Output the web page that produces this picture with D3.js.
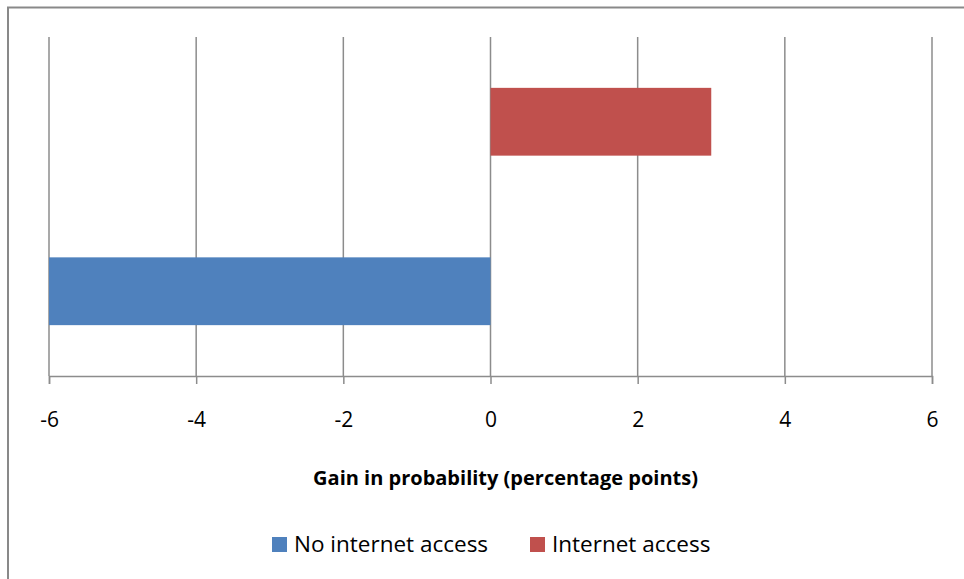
<!DOCTYPE html>
<html>
<head>
<meta charset="utf-8">
<script src="https://cdn.jsdelivr.net/npm/d3@7"></script>
<style>
  html, body { margin: 0; padding: 0; background: #fff; }
  svg { display: block; font-family: "Open Sans", "Liberation Sans", sans-serif; }
</style>
</head>
<body>
<svg id="chart" width="964" height="579"></svg>
<script>
// Series and axis definitions
const categories = ["No internet access", "Internet access"];
const values = [-6, 3];
const colors = ["#4f81bd", "#c0504d"];
const tickValues = [-6, -4, -2, 0, 2, 4, 6];
const axisTitle = "Gain in probability (percentage points)";

const svg = d3.select("#chart");
const W = 964, H = 579;

// Outer chart frame
svg.append("rect")
  .attr("x", 8).attr("y", 7.5)
  .attr("width", W + 10).attr("height", H + 10)
  .attr("fill", "#fff").attr("stroke", "#898989").attr("stroke-width", 2);

const plot = { left: 49, right: 932, top: 37, bottom: 376 };

const x = d3.scaleLinear().domain([-6, 6]).range([plot.left, plot.right]);
// Categories stacked bottom-up: first category at the bottom
const y = d3.scaleBand()
  .domain(categories.slice().reverse())
  .range([plot.top, plot.bottom])
  .paddingInner(0.6).paddingOuter(0.3);

// Vertical gridlines
svg.append("g")
  .selectAll("line")
  .data(tickValues)
  .join("line")
  .attr("x1", d => x(d)).attr("x2", d => x(d))
  .attr("y1", plot.top).attr("y2", plot.bottom)
  .attr("stroke", "#8c8c8c").attr("stroke-width", 1.5);

// Bars
svg.append("g")
  .selectAll("rect")
  .data(categories.map((c, i) => ({ c, v: values[i], col: colors[i] })))
  .join("rect")
  .attr("x", d => x(Math.min(0, d.v)))
  .attr("width", d => Math.abs(x(d.v) - x(0)))
  .attr("y", d => y(d.c))
  .attr("height", y.bandwidth())
  .attr("fill", d => d.col);

// Bottom axis
const axis = d3.axisBottom(x).tickValues(tickValues).tickSize(8).tickPadding(28)
  .tickFormat(d => d < 0 ? "-" + Math.abs(d) : String(d));
const gx = svg.append("g").attr("transform", `translate(0,${plot.bottom})`).call(axis);
gx.select(".domain").attr("stroke", "#8c8c8c").attr("stroke-width", 1.5);
gx.selectAll(".tick line").attr("stroke", "#8c8c8c").attr("stroke-width", 1.5);
gx.selectAll(".tick text")
  .attr("fill", "#000").attr("font-size", 21)
  .attr("font-family", "'Open Sans', 'Liberation Sans', sans-serif");

// Axis title
svg.append("text")
  .attr("x", (plot.left + plot.right) / 2 + 15).attr("y", 485)
  .attr("text-anchor", "middle")
  .attr("font-size", 20).attr("font-weight", "bold")
  .attr("fill", "#000")
  .text(axisTitle);

// Legend
const legendItems = [
  { label: categories[0], color: colors[0], x: 272 },
  { label: categories[1], color: colors[1], x: 530 }
];
const lg = svg.append("g").selectAll("g").data(legendItems).join("g")
  .attr("transform", d => `translate(${d.x},537)`);
lg.append("rect").attr("width", 15).attr("height", 15).attr("fill", d => d.color);
lg.append("text").attr("x", 22).attr("y", 15)
  .attr("font-size", 22.5).attr("fill", "#000")
  .text(d => d.label);
</script>
</body>
</html>
